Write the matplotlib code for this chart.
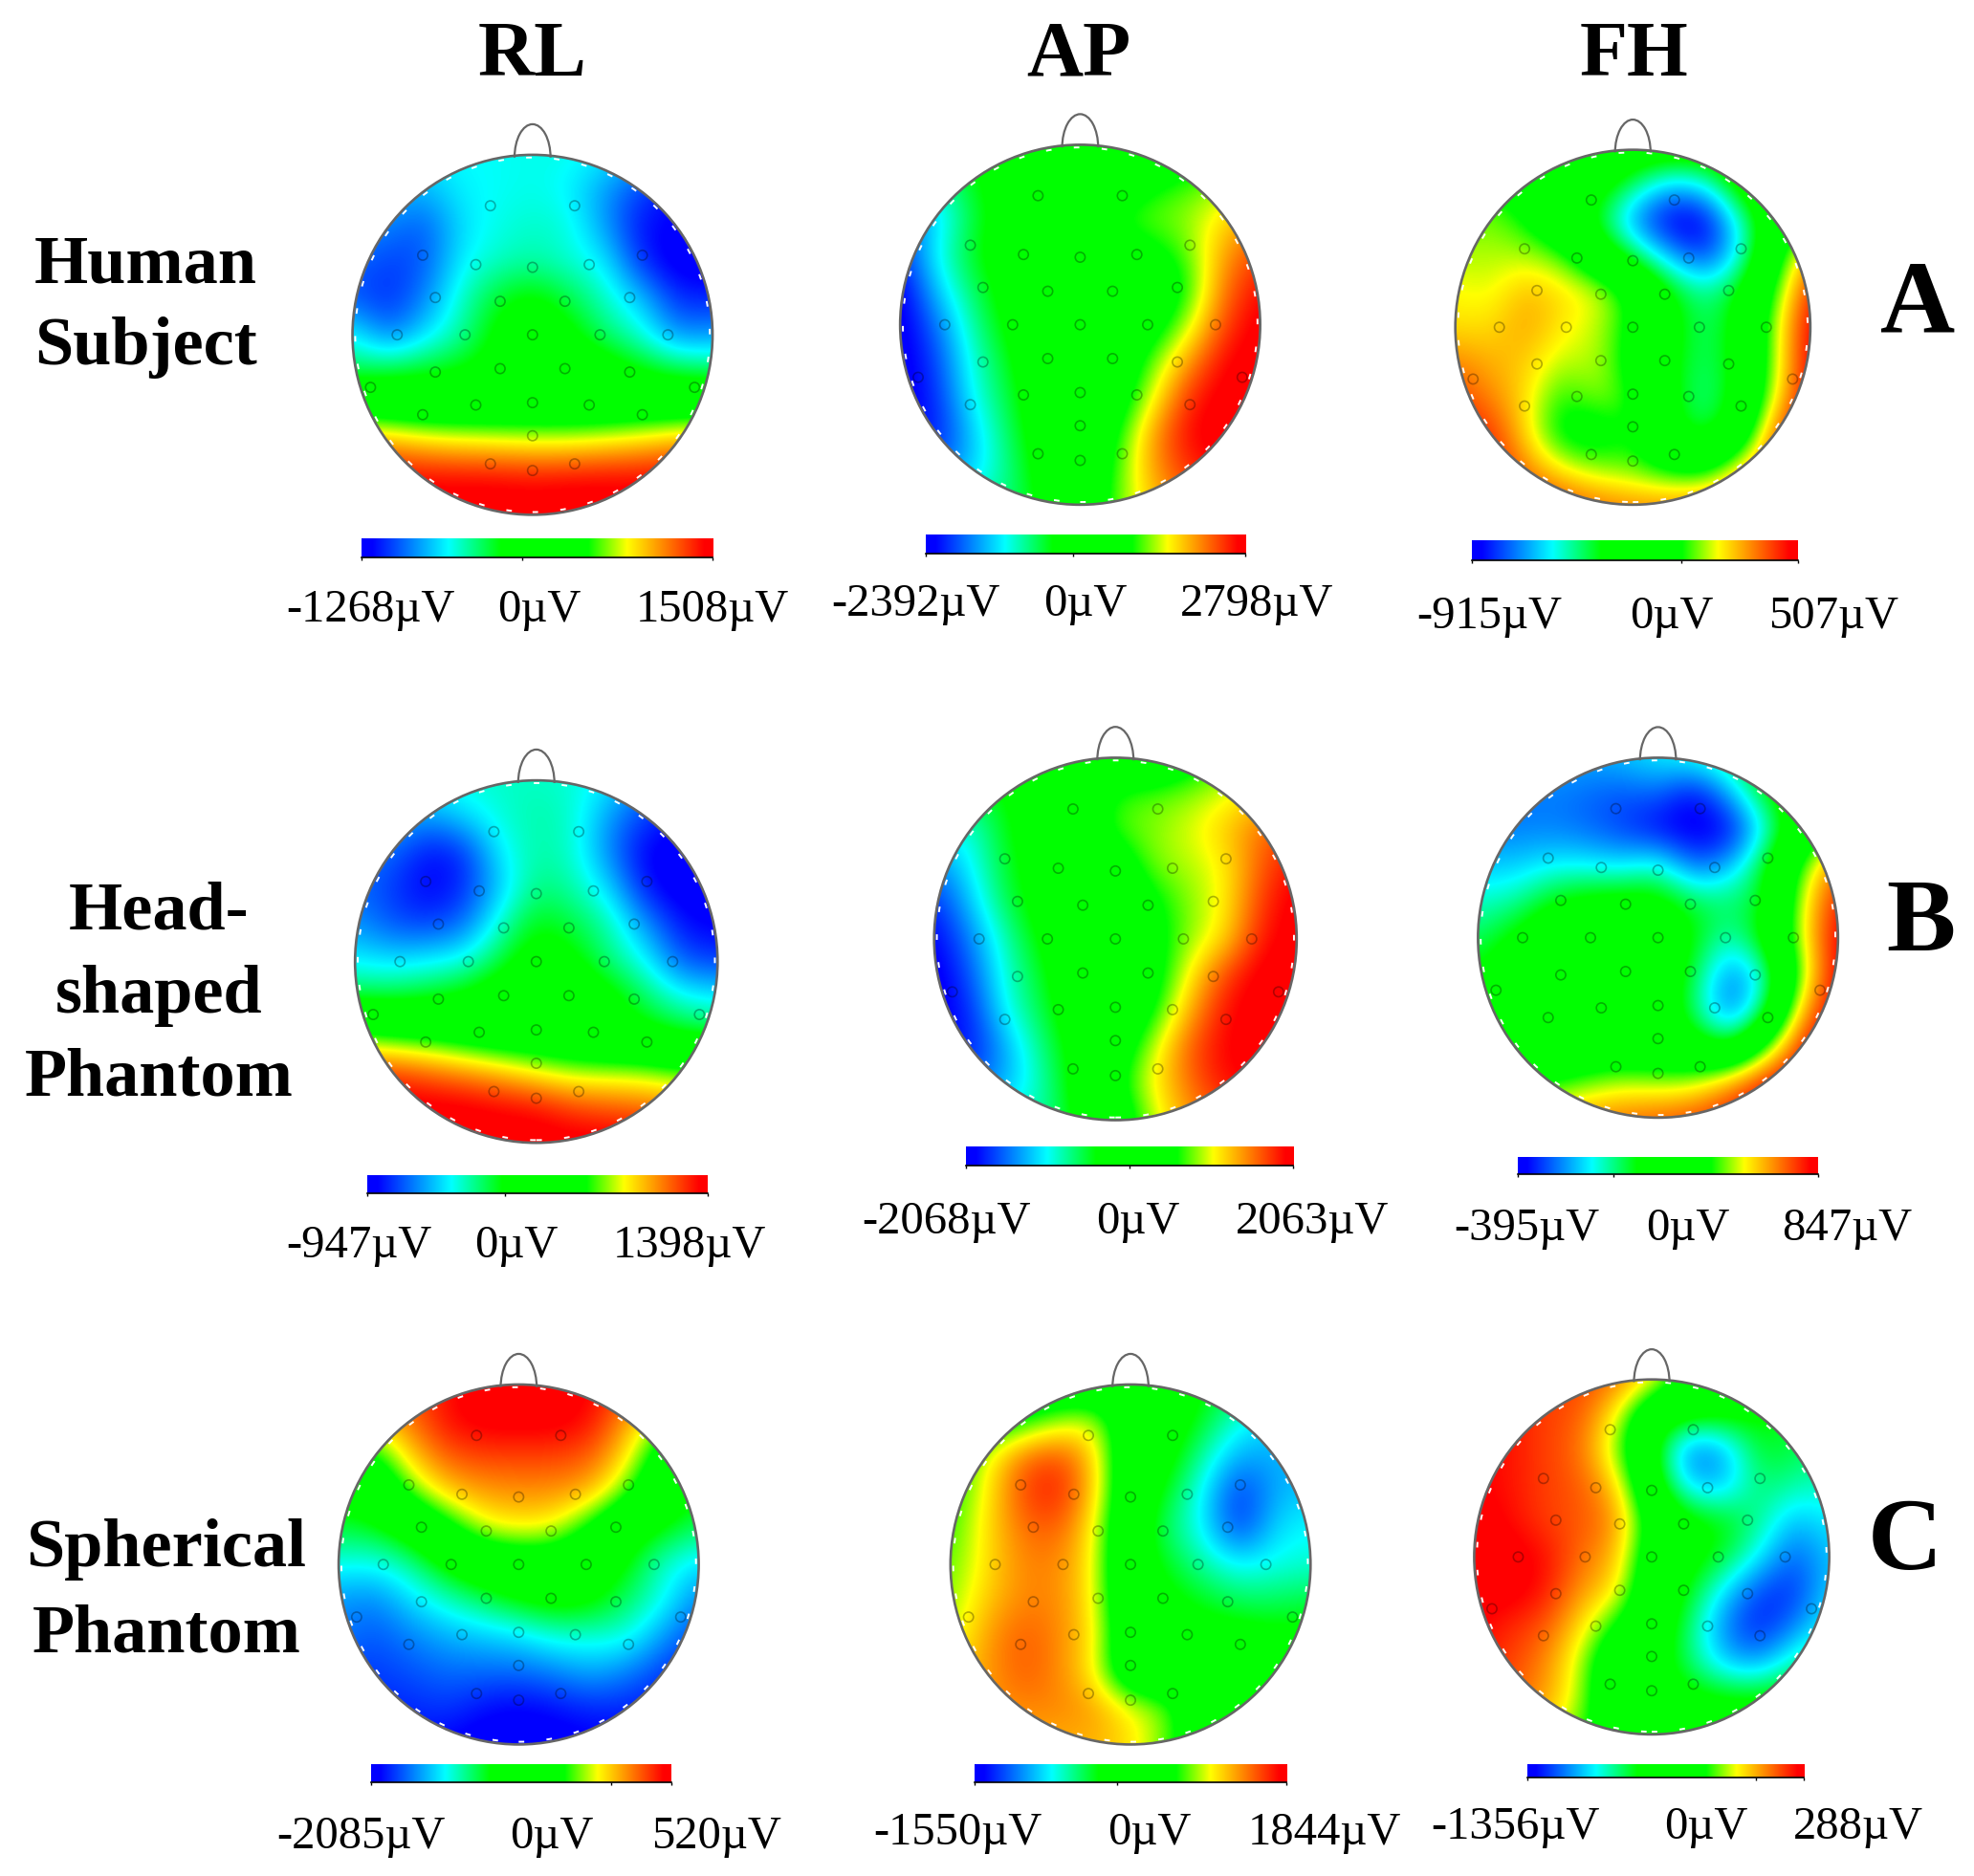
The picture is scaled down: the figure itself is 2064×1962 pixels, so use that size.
import numpy as np
import matplotlib
matplotlib.use("Agg")
import matplotlib.pyplot as plt
from matplotlib.colors import LinearSegmentedColormap, Normalize
from matplotlib.patches import Circle, Arc

W, H = 2064, 1962
S = 2064 / 1568  # coordinates below were read on the 1568 wide view

plt.rcParams['font.family'] = ['Liberation Serif', 'DejaVu Serif']

COLUMNS = ["RL", "AP", "FH"]
ROW_LETTERS = ["A", "B", "C"]
ROW_NAMES = [["Human", "Subject"], ["Head-", "shaped", "Phantom"], ["Spherical", "Phantom"]]

# scale limits in uV
LIMITS = [[(-1268, 1508), (-2392, 2798), (-915, 507)],
          [(-947, 1398), (-2068, 2063), (-395, 847)],
          [(-2085, 520), (-1550, 1844), (-1356, 288)]]

# electrodes, head radius = 1
ELECTRODE_X = [-.234, .234, -.61, .61, -.315, .315, 0, -.54, .54, -.18, .18, -.752, .752, -.375, .375, 0,
               -.54, .54, -.18, .18, -.9, .9, -.61, .61, -.315, .315, 0, 0, -.234, .234, 0]
ELECTRODE_Y = [.717, .717, .442, .442, .39, .39, .375, .207, .207, .186, .186, 0, 0, 0, 0, 0,
               -.207, -.207, -.188, -.188, -.292, -.292, -.444, -.444, -.39, -.39, -.377, -.561, -.717, -.717, -.754]

# potential on an 11x11 grid over the head, % of the colour scale, top row first
HUMAN_RL = [[24, 24, 24, 25, 25, 26, 26, 24, 20, 14, 12],
            [20, 20, 18, 24, 25, 26, 24, 16, 8, 4, 4],
            [16, 14, 10, 22, 26, 28, 27, 16, 4, 2, 2],
            [12, 8, 10, 24, 28, 30, 27, 24, 6, 0, 0],
            [10, 6, 14, 28, 38, 42, 36, 28, 20, 6, 6],
            [25, 12, 22, 30, 42, 48, 42, 33, 27, 14, 16],
            [34, 36, 38, 40, 44, 50, 50, 46, 40, 36, 34],
            [56, 54, 52, 52, 52, 52, 52, 52, 54, 54, 56],
            [86, 84, 80, 78, 77, 76, 76, 78, 80, 84, 86],
            [98, 98, 98, 98, 98, 97, 98, 98, 98, 98, 98],
            [100, 100, 100, 100, 100, 100, 100, 100, 100, 100, 100]]
HUMAN_AP = [[38, 38, 42, 44, 48, 50, 50, 52, 56, 60, 62],
            [28, 30, 38, 46, 52, 52, 54, 62, 66, 70, 72],
            [10, 20, 36, 44, 52, 56, 66, 69, 71, 78, 84],
            [6, 25, 38, 46, 50, 52, 58, 62, 68, 84, 92],
            [0, 20, 34, 44, 50, 52, 52, 54, 64, 88, 97],
            [0, 12, 30, 42, 50, 52, 52, 58, 72, 92, 100],
            [0, 8, 27, 38, 50, 52, 54, 68, 84, 98, 100],
            [0, 6, 25, 36, 48, 52, 56, 74, 94, 100, 100],
            [4, 4, 20, 34, 46, 52, 62, 84, 98, 100, 100],
            [10, 10, 20, 32, 44, 52, 66, 84, 94, 98, 98],
            [30, 30, 30, 32, 42, 52, 68, 80, 88, 92, 92]]
HUMAN_FH = [[62, 62, 60, 56, 54, 50, 50, 50, 52, 58, 62],
            [64, 64, 56, 50, 46, 34, 20, 24, 46, 58, 62],
            [68, 70, 64, 50, 38, 14, 0, 0, 26, 52, 62],
            [72, 72, 72, 68, 50, 36, 18, 6, 24, 58, 86],
            [76, 74, 82, 78, 75, 62, 42, 30, 40, 66, 96],
            [78, 78, 84, 77, 73, 62, 44, 33, 42, 72, 100],
            [86, 82, 80, 72, 73, 60, 42, 33, 42, 72, 100],
            [92, 86, 78, 64, 71, 66, 42, 31, 42, 76, 100],
            [96, 94, 78, 60, 58, 66, 45, 34, 50, 90, 100],
            [96, 96, 86, 76, 70, 68, 62, 60, 78, 92, 96],
            [96, 96, 94, 92, 88, 86, 86, 88, 92, 96, 96]]
HEAD_RL = [[26, 26, 27, 27, 28, 28, 27, 24, 16, 10, 10],
           [20, 20, 16, 22, 27, 30, 28, 16, 8, 4, 4],
           [14, 12, 4, 6, 24, 30, 28, 14, 2, 0, 0],
           [12, 8, 2, 6, 20, 33, 30, 22, 4, 0, 0],
           [16, 10, 8, 12, 28, 40, 36, 30, 16, 4, 2],
           [24, 22, 24, 26, 36, 46, 42, 32, 25, 10, 8],
           [36, 36, 38, 42, 48, 52, 50, 44, 34, 26, 24],
           [66, 62, 60, 56, 52, 52, 50, 46, 42, 38, 36],
           [92, 92, 88, 84, 80, 74, 70, 70, 70, 66, 66],
           [100, 100, 100, 100, 98, 97, 92, 90, 88, 86, 86],
           [100, 100, 100, 100, 100, 100, 100, 100, 100, 100, 100]]
HEAD_AP = [[44, 44, 46, 50, 54, 52, 50, 58, 66, 70, 70],
           [36, 36, 40, 46, 54, 66, 68, 70, 74, 78, 80],
           [26, 26, 40, 44, 56, 68, 70, 74, 80, 88, 92],
           [14, 24, 38, 44, 50, 56, 70, 72, 76, 90, 97],
           [6, 20, 36, 44, 50, 52, 62, 70, 76, 93, 100],
           [2, 14, 30, 42, 50, 52, 60, 70, 78, 96, 100],
           [0, 10, 28, 38, 50, 52, 58, 76, 92, 100, 100],
           [0, 6, 26, 36, 48, 52, 62, 82, 97, 100, 100],
           [4, 4, 18, 33, 44, 56, 72, 90, 98, 100, 100],
           [10, 10, 18, 30, 44, 62, 76, 88, 97, 98, 98],
           [28, 28, 28, 30, 42, 54, 72, 84, 90, 92, 92]]
HEAD_FH = [[18, 18, 18, 18, 20, 24, 27, 34, 46, 50, 52],
           [12, 12, 14, 12, 10, 12, 2, 18, 40, 52, 56],
           [14, 14, 14, 12, 8, 2, 0, 2, 26, 52, 68],
           [20, 20, 24, 24, 22, 28, 10, 18, 40, 68, 90],
           [28, 30, 40, 44, 46, 44, 36, 34, 38, 76, 96],
           [34, 42, 50, 50, 50, 50, 40, 28, 44, 76, 100],
           [40, 48, 50, 52, 56, 50, 36, 12, 28, 72, 100],
           [46, 50, 50, 50, 50, 50, 32, 10, 34, 84, 100],
           [50, 52, 52, 52, 52, 52, 46, 36, 66, 97, 100],
           [60, 60, 62, 68, 72, 70, 72, 84, 97, 100, 100],
           [84, 84, 84, 86, 88, 90, 92, 96, 100, 100, 100]]
SPHERE_RL = [[84, 88, 90, 96, 100, 100, 100, 98, 92, 84, 80],
             [78, 80, 88, 97, 100, 100, 100, 97, 84, 70, 66],
             [60, 62, 80, 90, 92, 92, 92, 90, 78, 56, 46],
             [44, 48, 68, 80, 84, 85, 85, 82, 68, 48, 40],
             [36, 38, 46, 60, 74, 77, 75, 62, 46, 40, 34],
             [26, 25, 30, 42, 50, 54, 54, 48, 40, 27, 22],
             [16, 14, 22, 28, 34, 40, 44, 42, 34, 26, 14],
             [14, 10, 14, 18, 20, 22, 27, 27, 27, 16, 8],
             [8, 8, 10, 12, 12, 12, 14, 18, 14, 8, 4],
             [6, 6, 6, 8, 4, 2, 4, 6, 6, 4, 4],
             [4, 4, 4, 2, 0, 0, 0, 2, 2, 4, 4]]
SPHERE_AP = [[50, 50, 52, 52, 50, 50, 48, 40, 36, 32, 30],
             [56, 58, 62, 70, 74, 52, 46, 38, 26, 22, 20],
             [62, 74, 88, 92, 80, 50, 44, 30, 17, 18, 18],
             [64, 76, 92, 96, 80, 50, 38, 24, 6, 18, 20],
             [66, 78, 88, 90, 76, 48, 33, 24, 6, 22, 25],
             [68, 78, 86, 86, 76, 46, 38, 30, 24, 26, 27],
             [70, 80, 86, 86, 76, 48, 42, 38, 34, 34, 36],
             [72, 84, 90, 86, 78, 50, 46, 44, 44, 42, 42],
             [78, 84, 90, 86, 76, 50, 50, 50, 48, 46, 46],
             [80, 84, 86, 86, 84, 76, 70, 52, 46, 44, 44],
             [78, 80, 82, 82, 82, 78, 68, 52, 46, 44, 44]]
SPHERE_FH = [[92, 92, 92, 92, 88, 78, 60, 50, 48, 46, 46],
             [98, 96, 92, 90, 76, 50, 44, 44, 42, 36, 34],
             [98, 96, 92, 88, 70, 44, 12, 16, 38, 36, 32],
             [98, 96, 92, 90, 80, 48, 20, 18, 34, 30, 28],
             [100, 97, 92, 90, 86, 58, 44, 40, 32, 18, 24],
             [100, 100, 97, 88, 82, 54, 44, 38, 24, 10, 20],
             [100, 100, 96, 84, 78, 50, 40, 22, 8, 6, 22],
             [98, 94, 90, 78, 62, 50, 34, 14, 4, 14, 26],
             [96, 92, 86, 72, 50, 46, 34, 20, 16, 30, 36],
             [94, 90, 84, 72, 48, 46, 44, 42, 42, 44, 44],
             [92, 86, 78, 66, 54, 48, 48, 48, 48, 48, 48]]
MAPS = [[HUMAN_RL, HUMAN_AP, HUMAN_FH], [HEAD_RL, HEAD_AP, HEAD_FH], [SPHERE_RL, SPHERE_AP, SPHERE_FH]]

# layout, px on the 1568 view
HEADS = [[(423, 266, 143), (858, 258, 143), (1297, 260, 141)],
         [(426, 764, 144), (886, 746, 144), (1317, 745, 143)],
         [(412, 1243, 143), (898, 1243, 143), (1312, 1237, 141)]]
BARS = [[(287, 566, 428, 443), (735, 989, 425, 440), (1169, 1428, 429, 445)],
        [(292, 562, 934, 948), (767, 1027, 911, 926), (1206, 1444, 919, 933)],
        [(295, 533, 1402, 1416), (774, 1022, 1402, 1416), (1213, 1433, 1402, 1412)]]
LABEL_POS = [[(294, 428, 566, 485), (727, 862, 998, 480), (1183, 1328, 1456, 490)],
             [(285, 410, 548, 990), (752, 904, 1042, 971), (1213, 1341, 1467, 976)],
             [(287, 438, 569, 1459), (761, 913, 1052, 1456), (1204, 1355, 1476, 1452)]]
TITLE_POS = [(423, 45), (857, 45), (1298, 45)]
LETTER_POS = [(1523, 244), (1526, 735), (1513, 1227)]
NAME_POS = [(116, [211, 276]), (126, [725, 791, 857]), (132, [1231, 1299])]

cmap = LinearSegmentedColormap.from_list("topo", [
    (0, "#0000ff"), (.03, "#0000ff"), (.247, "#00ffff"), (.396, "#00ff00"),
    (.645, "#00ff00"), (.755, "#ffff00"), (.975, "#ff0000"), (1, "#ff0000")], N=512)

fig = plt.figure(figsize=(W / 100, H / 100), dpi=100)


def ftext(x, y, s, **kw):
    fig.text(x * S / W, 1 - y * S / H, s, ha="center", va="center", **kw)


def draw_head(row, col):
    cx, cy, r = HEADS[row][col]
    vmin, vmax = LIMITS[row][col]
    pad = 1.25 * r
    ax = fig.add_axes([(cx - pad) * S / W, 1 - (cy + pad) * S / H, 2 * pad * S / W, 2 * pad * S / H])
    ax.set_xlim(-1.25, 1.25)
    ax.set_ylim(-1.25, 1.25)
    ax.axis("off")
    values = vmin + np.array(MAPS[row][col]) / 100 * (vmax - vmin)
    im = ax.imshow(values, cmap=cmap, norm=Normalize(vmin, vmax), extent=[-1.1, 1.1, -1.1, 1.1],
                   interpolation="bicubic", interpolation_stage="data", aspect="auto")
    im.set_clip_path(Circle((0, 0), 1, transform=ax.transData))
    ax.add_patch(Circle((0, 0), .985, fc="none", ec="white", lw=1.4, ls=(0, (3, 12))))
    ax.add_patch(Circle((0, 0), 1, fc="none", ec="#666666", lw=1.9))
    ax.add_patch(Arc((0, .985), .2, .37, theta1=0, theta2=180, ec="#666666", lw=1.6))
    ax.scatter(ELECTRODE_X, ELECTRODE_Y, s=55, facecolors="none", edgecolors=(0, 0, 0, .3), linewidths=1.2)


def draw_bar(row, col):
    x0, x1, y0, y1 = BARS[row][col]
    vmin, vmax = LIMITS[row][col]
    ax = fig.add_axes([x0 * S / W, 1 - y1 * S / H, (x1 - x0) * S / W, (y1 - y0) * S / H])
    ax.imshow(np.linspace(vmin, vmax, 512)[None, :], cmap=cmap, norm=Normalize(vmin, vmax),
              extent=[vmin, vmax, 0, 1], aspect="auto")
    ax.set_yticks([])
    ax.set_xticks([vmin, 0, vmax], labels=[])
    ax.tick_params(axis="x", length=2.5, width=1)
    for name in ["top", "left", "right"]:
        ax.spines[name].set_visible(False)
    ax.spines["bottom"].set_linewidth(1.2)
    xa, xb, xc, y = LABEL_POS[row][col]
    for x, v in zip([xa, xb, xc], [vmin, 0, vmax]):
        ftext(x, y, f"{v}\u00b5V", fontsize=35)


for i in range(3):
    for j in range(3):
        draw_head(i, j)
        draw_bar(i, j)

for name, (x, y) in zip(COLUMNS, TITLE_POS):
    ftext(x, y, name, fontsize=59, fontweight="bold")
for letter, (x, y) in zip(ROW_LETTERS, LETTER_POS):
    ftext(x, y, letter, fontsize=78, fontweight="bold")
for lines, (x, ys) in zip(ROW_NAMES, NAME_POS):
    for s, y in zip(lines, ys):
        ftext(x, y, s, fontsize=52, fontweight="bold")

fig.savefig("out.png", dpi=100)
